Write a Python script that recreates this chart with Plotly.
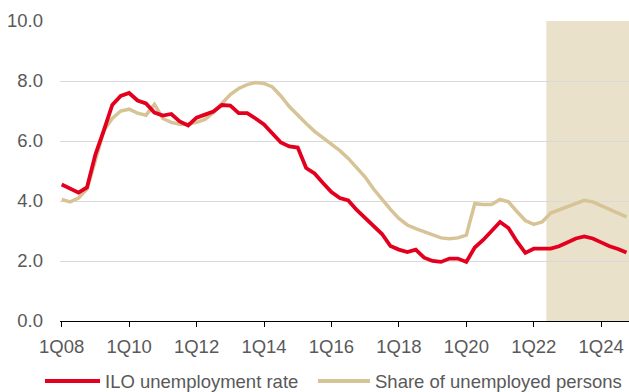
import plotly.graph_objects as go

years = list(range(8, 25))
quarters = [f"{q}Q{y:02d}" for y in years for q in range(1, 5)]

ilo_rate = [4.55, 4.40, 4.28, 4.45, 5.55, 6.35, 7.20, 7.50, 7.60, 7.35,
            7.25, 6.95, 6.85, 6.90, 6.65, 6.52, 6.78, 6.88, 6.98, 7.20,
            7.18, 6.93, 6.93, 6.75, 6.55, 6.25, 5.95, 5.82, 5.78, 5.10,
            4.92, 4.60, 4.30, 4.10, 4.02, 3.70, 3.42, 3.15, 2.90, 2.50,
            2.38, 2.30, 2.38, 2.11, 2.00, 1.97, 2.08, 2.08, 1.97, 2.45,
            2.70, 3.00, 3.30, 3.10, 2.65, 2.27, 2.41, 2.41, 2.41, 2.49,
            2.62, 2.75, 2.82, 2.75, 2.62, 2.49, 2.40, 2.28]

share_unemployed = [4.05, 3.97, 4.10, 4.40, 5.35, 6.35, 6.75, 7.00, 7.06, 6.93,
                    6.86, 7.22, 6.75, 6.62, 6.56, 6.56, 6.62, 6.72, 6.95, 7.25,
                    7.55, 7.75, 7.88, 7.95, 7.92, 7.80, 7.50, 7.15, 6.85, 6.58,
                    6.32, 6.10, 5.90, 5.68, 5.42, 5.10, 4.80, 4.40, 4.05, 3.72,
                    3.42, 3.20, 3.08, 2.97, 2.88, 2.77, 2.74, 2.77, 2.86, 3.91,
                    3.88, 3.88, 4.05, 3.97, 3.65, 3.35, 3.22, 3.30, 3.60, 3.70,
                    3.82, 3.93, 4.02, 3.97, 3.85, 3.70, 3.58, 3.47]

tick_labels = ["1Q08", "1Q10", "1Q12", "1Q14", "1Q16", "1Q18", "1Q20", "1Q22", "1Q24"]
y_ticks = [0, 2, 4, 6, 8, 10]
forecast_start = 57.5  # quarter index where shaded forecast period begins

idx = list(range(len(quarters)))
tick_idx = [quarters.index(t) for t in tick_labels]

RED = "#E3001F"
TAN = "#D6C496"
SHADE = "#EAE1CA"
TEXT = "#595959"
FONT = "Liberation Sans, Arial, sans-serif"
FS = 18.5

fig = go.Figure()
fig.add_trace(go.Scatter(x=idx, y=share_unemployed, mode="lines",
                         name="Share of unemployed persons",
                         line=dict(color=TAN, width=3.5), showlegend=False))
fig.add_trace(go.Scatter(x=idx, y=ilo_rate, mode="lines",
                         name="ILO unemployment rate",
                         line=dict(color=RED, width=3.8), showlegend=False))

fig.add_shape(type="rect", xref="x", yref="y", x0=forecast_start, x1=70,
              y0=0, y1=10, fillcolor=SHADE, line=dict(width=0), layer="below")

# manual legend
legend_items = [("ILO unemployment rate", RED, -0.0264, 0.0703),
                ("Share of unemployed persons", TAN, 0.4534, 0.5448)]
for name, color, x0, x1 in legend_items:
    fig.add_shape(type="line", xref="paper", yref="paper", x0=x0, x1=x1,
                  y0=-0.2, y1=-0.2, line=dict(color=color, width=4))
    fig.add_annotation(xref="paper", yref="paper", x=x1 + 0.006, y=-0.2,
                       text=name, showarrow=False, xanchor="left", yanchor="middle",
                       font=dict(size=FS, color=TEXT, family=FONT))

fig.update_layout(
    width=629, height=392,
    margin=dict(l=60, r=0, t=21, b=71),
    paper_bgcolor="white", plot_bgcolor="white",
    font=dict(family=FONT, size=FS, color=TEXT),
    showlegend=False,
)
fig.update_xaxes(range=[-0.2, 67.3], tickmode="array", tickvals=tick_idx,
                 ticktext=tick_labels, showgrid=False, showline=True,
                 linecolor="black", linewidth=1, ticks="outside", ticklen=5,
                 tickcolor="black", zeroline=False, ticklabelstandoff=4,
                 tickfont=dict(size=FS, color=TEXT, family=FONT))
fig.update_yaxes(range=[0, 10], tickmode="array", tickvals=y_ticks,
                 tickformat=".1f", showgrid=True, gridcolor="#D9D9D9",
                 gridwidth=1, zeroline=False, showline=False,
                 ticklabelstandoff=16,
                 tickfont=dict(size=FS, color=TEXT, family=FONT))

fig.write_html("out.html")
